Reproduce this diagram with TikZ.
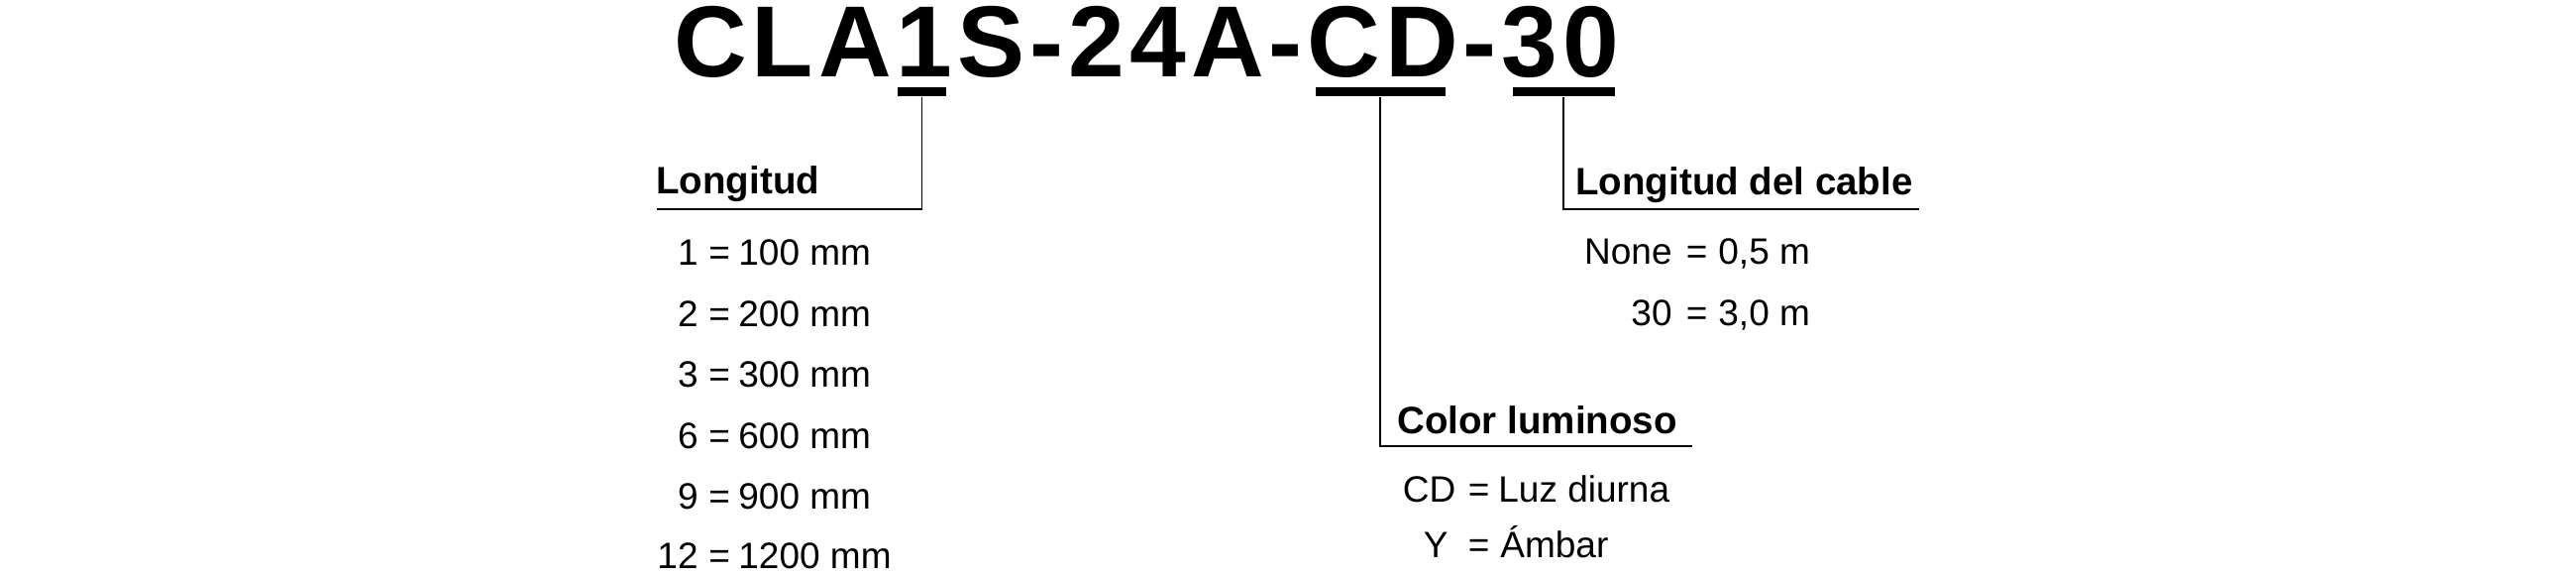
\documentclass[tikz,border=0pt]{standalone}
\usepackage{fontspec}
\setmainfont{Liberation Sans}
\newfontfamily\titlefam[LetterSpace=4.9]{Liberation Sans}
\begin{document}
\begin{tikzpicture}[x=0.5pt,y=-0.5pt,
  titletext/.style={font=\titlefam\bfseries\fontsize{51}{51}\selectfont, inner sep=0, anchor=base west},
  headtext/.style={font=\bfseries\fontsize{19.25}{19.25}\selectfont, inner sep=0, anchor=base west},
  itemtext/.style={font=\fontsize{18.5}{18.5}\selectfont, inner sep=0},
  keytext/.style={itemtext, anchor=base east},
  keyleft/.style={itemtext, anchor=base west},
  eqtext/.style={itemtext, anchor=base west},
  valtext/.style={itemtext, anchor=base west},
  bar/.style={fill=black, draw=none, inner sep=0, minimum height=4.5pt, anchor=north},
  conn/.style={line width=0.75pt, draw=black}]
\useasboundingbox (0,0) rectangle (2600,580);

% title
\node[titletext] (title) at (680,77) {CLA1S-24A-CD-30};

% underline bars
\node[bar, minimum width=24.5pt] (u1) at (930.5,88) {};
\node[bar, minimum width=65.5pt] (ucd) at (1393,88) {};
\node[bar, minimum width=51.5pt] (u30) at (1578,88) {};

% heading line ends
\coordinate (l1) at (663,211);
\coordinate (lcd) at (1708,450);
\coordinate (l30) at (1937,211);

% headings
\node[headtext] (h1) at (662,195) {Longitud};
\node[headtext] (hcd) at (1410,437) {Color luminoso};
\node[headtext] (h30) at (1590,196) {Longitud del cable};

% connectors
\draw[conn] (u1.south) |- (l1);
\draw[conn] (ucd.south) |- (lcd);
\draw[conn] (u30.south) |- (l30);

% Longitud list
\foreach \k/\v/\y [count=\i] in {1/100 mm/267, 2/200 mm/329, 3/300 mm/390, 6/600 mm/452, 9/900 mm/513, 12/1200 mm/573}{
  \node[keytext] (k\i) at (705,\y) {\k};
  \node[eqtext] (e\i) at (715,\y) {=};
  \node[valtext] (v\i) at (745,\y) {\v};
}

% Color list
\node[keyleft] (kcd) at (1415.5,506) {CD};
\node[eqtext] (ecd) at (1481.5,506) {=};
\node[valtext] (vcd) at (1512,506) {Luz diurna};
\node[keyleft] (ky) at (1436.5,562) {Y};
\node[eqtext] (ey) at (1481.5,562) {=};
\node[valtext] (vy) at (1514,562) {Ámbar};

% cable list
\node[keytext] (kn) at (1688,266) {None};
\node[eqtext] (en) at (1701.5,266) {=};
\node[valtext] (vn) at (1734,266) {0,5 m};
\node[keytext] (k30) at (1688,328) {30};
\node[eqtext] (e30) at (1701.5,328) {=};
\node[valtext] (v30) at (1734,328) {3,0 m};
\end{tikzpicture}
\end{document}
